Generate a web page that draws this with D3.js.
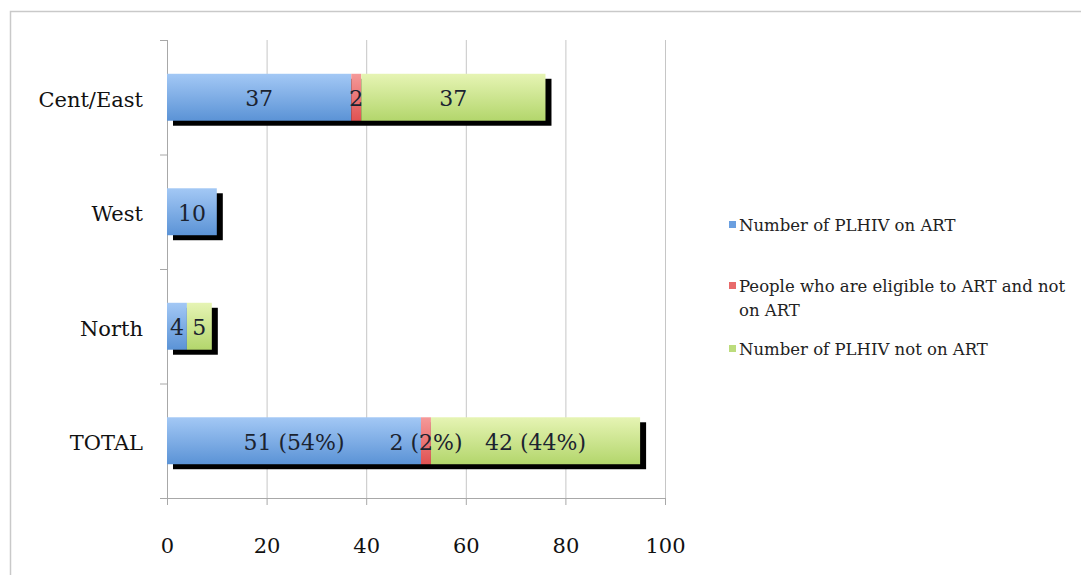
<!DOCTYPE html>
<html>
<head>
<meta charset="utf-8">
<script src="https://cdn.jsdelivr.net/npm/d3@7"></script>
<style>
  body { margin: 0; background: #fff; }
  text { font-family: "DejaVu Serif", serif; }
</style>
</head>
<body>
<script>
// data
var categories = ["Cent/East", "West", "North", "TOTAL"];
var seriesNames = ["Number of PLHIV on ART", "People who are eligible to ART and not on ART", "Number of PLHIV not on ART"];
var onArt = [37, 10, 4, 51];
var eligibleNotOnArt = [2, 0, 0, 2];
var notOnArt = [37, 0, 5, 42];
var onArtLabels = ["37", "10", "4", "51 (54%)"];
var eligibleLabels = ["2", "", "", "2 (2%)"];
var notOnArtLabels = ["37", "", "5", "42 (44%)"];
var xTicks = [0, 20, 40, 60, 80, 100];

var svg = d3.select("body").append("svg")
  .attr("width", 1081)
  .attr("height", 575);

// outer frame
svg.append("rect")
  .attr("x", 10.5).attr("y", 11.5)
  .attr("width", 1100).attr("height", 600)
  .attr("fill", "none").attr("stroke", "#c9c9c9").attr("stroke-width", 1.5);

var margin = { top: 40, left: 167 },
  width = 498,
  height = 458,
  g = svg.append("g").attr("transform", "translate(" + margin.left + "," + margin.top + ")");

var x = d3.scaleLinear().domain([0, 100]).range([0, width]);
var y = d3.scaleBand().domain(categories).range([0, height]).padding(0);

var defs = svg.append("defs");
var grads = [
  { id: "gBlue", top: "#a3c8f5", bot: "#5b93d6" },
  { id: "gRed", top: "#f59a9a", bot: "#e05252" },
  { id: "gGreen", top: "#e6f4b4", bot: "#b3d66c" }
];
grads.forEach(function (c) {
  var lg = defs.append("linearGradient").attr("id", c.id)
    .attr("x1", 0).attr("y1", 0).attr("x2", 0).attr("y2", 1);
  lg.append("stop").attr("offset", "0%").attr("stop-color", c.top);
  lg.append("stop").attr("offset", "100%").attr("stop-color", c.bot);
});

// gridlines
g.append("g").selectAll("line")
  .data(xTicks.slice(1))
  .enter().append("line")
  .attr("x1", function (d) { return x(d) + 0.5; })
  .attr("x2", function (d) { return x(d) + 0.5; })
  .attr("y1", 0).attr("y2", height)
  .attr("stroke", "#c6c6c6");

// x axis
var xAxis = g.append("g")
  .attr("transform", "translate(0," + height + ")")
  .call(d3.axisBottom(x).tickValues(xTicks).tickSize(7).tickPadding(33));
xAxis.select(".domain").attr("stroke", "#a8a8a8");
xAxis.selectAll(".tick line").attr("stroke", "#a8a8a8");
xAxis.selectAll("text")
  .style("font-family", "DejaVu Serif, serif")
  .style("font-size", "21px")
  .attr("fill", "#111");

// y axis (ticks at band boundaries)
g.append("line")
  .attr("x1", 0.5).attr("x2", 0.5).attr("y1", 0).attr("y2", height)
  .attr("stroke", "#a8a8a8");
var bounds = categories.map(function (c) { return y(c); }).concat([height]);
g.append("g").selectAll("line")
  .data(bounds)
  .enter().append("line")
  .attr("x1", -7).attr("x2", 0)
  .attr("y1", function (d) { return d + 0.5; })
  .attr("y2", function (d) { return d + 0.5; })
  .attr("stroke", "#a8a8a8");

g.append("g").selectAll("text")
  .data(categories)
  .enter().append("text")
  .attr("x", -24)
  .attr("y", function (d) { return y(d) + y.bandwidth() / 2; })
  .attr("dy", "0.45em")
  .style("text-anchor", "end")
  .style("font-size", "21px")
  .attr("fill", "#111")
  .text(function (d) { return d; });

// stacked bars
var barH = y.bandwidth() * 0.41;
var rows = categories.map(function (c, i) {
  var segs = [
    { v: onArt[i], fill: "url(#gBlue)", label: onArtLabels[i] },
    { v: eligibleNotOnArt[i], fill: "url(#gRed)", label: eligibleLabels[i] },
    { v: notOnArt[i], fill: "url(#gGreen)", label: notOnArtLabels[i] }
  ];
  var acc = 0;
  segs.forEach(function (s) { s.x0 = acc; acc += s.v; s.x1 = acc; });
  return { cat: c, segs: segs.filter(function (s) { return s.v > 0; }), total: acc };
});

var bar = g.append("g").selectAll("g")
  .data(rows)
  .enter().append("g")
  .attr("transform", function (d) {
    return "translate(0," + (y(d.cat) + (y.bandwidth() - barH) / 2) + ")";
  });

// drop shadows
bar.append("rect")
  .attr("x", 6)
  .attr("y", 5)
  .attr("width", function (d) { return x(d.total); })
  .attr("height", barH)
  .attr("fill", "#000");

bar.selectAll(".seg")
  .data(function (d) { return d.segs; })
  .enter().append("rect")
  .attr("class", "seg")
  .attr("x", function (d) { return x(d.x0); })
  .attr("width", function (d) { return x(d.x1) - x(d.x0); })
  .attr("height", barH)
  .attr("fill", function (d) { return d.fill; });

bar.selectAll(".lbl")
  .data(function (d) { return d.segs; })
  .enter().append("text")
  .attr("class", "lbl")
  .attr("x", function (d) { return (x(d.x0) + x(d.x1)) / 2; })
  .attr("y", barH / 2)
  .attr("dy", "0.42em")
  .style("text-anchor", "middle")
  .style("font-size", "22px")
  .attr("fill", "#1b2330")
  .text(function (d) { return d.label; });

// legend
var legendColors = ["#6a9fe0", "#e86a6a", "#bcdc7c"];
var legendY = [231, 292, 355];
var legend = svg.append("g").selectAll("g")
  .data(seriesNames)
  .enter().append("g")
  .attr("transform", function (d, i) { return "translate(729," + legendY[i] + ")"; });
legend.append("rect")
  .attr("x", 0).attr("y", -10)
  .attr("width", 7).attr("height", 7)
  .attr("fill", function (d, i) { return legendColors[i]; });
legend.append("text")
  .attr("x", 10)
  .style("font-size", "16.5px")
  .attr("fill", "#222")
  .each(function (d) {
    var t = d3.select(this);
    if (d.length > 40) {
      t.append("tspan").attr("x", 10).attr("dy", 0).text("People who are eligible to ART and not");
      t.append("tspan").attr("x", 10).attr("dy", 24).text("on ART");
    } else {
      t.text(d);
    }
  });
</script>
</body>
</html>
